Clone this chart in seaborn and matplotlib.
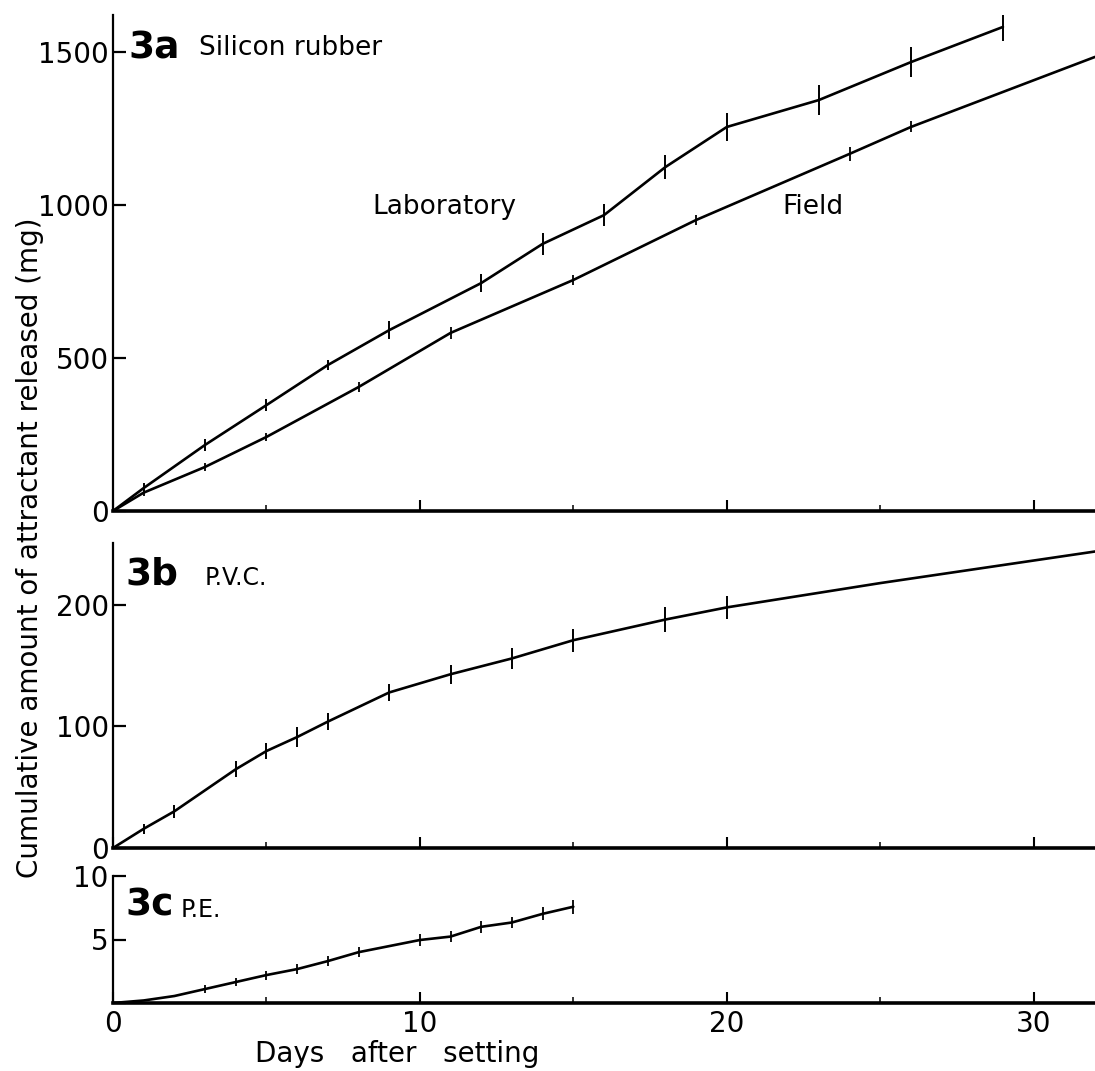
import numpy as np
import pandas as pd
import matplotlib
matplotlib.use("Agg")
import matplotlib.pyplot as plt
import seaborn as sns

# ---- data ----
# Panel 3a: silicon rubber
lab_days = [0, 1, 3, 5, 7, 9, 12, 14, 16, 18, 20, 23, 26, 29]
lab_vals = [0, 75, 216, 346, 477, 591, 745, 873, 967, 1124, 1255, 1343, 1467, 1582]
lab_err = [0, 16, 20, 20, 16, 29, 29, 36, 36, 39, 46, 49, 49, 46]

field_days = [0, 1, 3, 5, 8, 11, 15, 19, 24, 26, 32]
field_vals = [0, 60, 144, 242, 405, 582, 755, 951, 1167, 1255, 1484]
field_err = [0, 10, 14, 14, 17, 19, 15, 15, 23, 18, 0]

# Panel 3b: P.V.C.
pvc_days = [0, 1, 2, 4, 5, 6, 7, 9, 11, 13, 15, 18, 20, 25, 32]
pvc_vals = [0, 15.8, 30.2, 64.8, 79.8, 91.3, 104, 128, 143, 156, 171, 188, 198, 218, 244]
pvc_err = [0, 4.0, 5.5, 6.4, 6.9, 8.0, 6.9, 7.1, 7.8, 9.0, 9.6, 10.0, 9.6, 0, 0]

# Panel 3c: P.E.
pe_days = [0, 1, 2, 3, 4, 5, 6, 7, 8, 10, 11, 12, 13, 14, 15]
pe_vals = [0, 0.2, 0.55, 1.1, 1.65, 2.2, 2.67, 3.3, 4.0, 4.96, 5.23, 6.0, 6.34, 7.02, 7.58]
pe_err = [0, 0, 0, 0.3, 0.3, 0.35, 0.4, 0.4, 0.4, 0.45, 0.45, 0.45, 0.45, 0.5, 0.55]

x_ticks = [0, 10, 20, 30]
y_ticks_a = [0, 500, 1000, 1500]
y_ticks_b = [0, 100, 200]
y_ticks_c = [0, 5, 10]
y_labels_c = ["", "5", "10"]

sns.set_theme(style="white")
plt.rcParams['font.family'] = ['DejaVu Sans']
plt.rcParams['text.color'] = 'black'

W, H = 1095, 1071
fig = plt.figure(figsize=(W / 100, H / 100), dpi=100)

def axes_px(left, top, right, bottom):
    return fig.add_axes([left / W, 1 - bottom / H, (right - left) / W, (bottom - top) / H])

ax_a = axes_px(113, 15, 1095, 511)
ax_b = axes_px(113, 543, 1095, 848)
ax_c = axes_px(113, 876, 1095, 1003)

LW = 1.9

def draw(ax, days, vals, err, cap_lw=1.4):
    df = pd.DataFrame({"day": days, "val": vals})
    sns.lineplot(data=df, x="day", y="val", ax=ax, color="black", lw=LW,
                 estimator=None, sort=False)
    e = np.asarray(err, dtype=float)
    m = e > 0
    ax.errorbar(np.asarray(days)[m], np.asarray(vals)[m], yerr=e[m], fmt="none",
                ecolor="black", elinewidth=cap_lw, capsize=0)

draw(ax_a, lab_days, lab_vals, lab_err)
draw(ax_a, field_days, field_vals, field_err, cap_lw=1.3)
draw(ax_b, pvc_days, pvc_vals, pvc_err)
draw(ax_c, pe_days, pe_vals, pe_err, cap_lw=1.3)

ax_a.set_ylim(0, 1621)
ax_b.set_ylim(0, 251)
ax_c.set_ylim(0, 10)

for ax, yt in ((ax_a, y_ticks_a), (ax_b, y_ticks_b), (ax_c, y_ticks_c)):
    ax.set_xlim(0, 32)
    ax.set_xlabel("")
    ax.set_ylabel("")
    ax.set_facecolor("white")
    for s in ("top", "right"):
        ax.spines[s].set_visible(False)
    ax.spines["left"].set_linewidth(1.6)
    ax.spines["bottom"].set_linewidth(2.6)
    ax.spines["left"].set_color("black")
    ax.spines["bottom"].set_color("black")
    ax.set_yticks(yt)
    ax.set_xticks(x_ticks)
    ax.set_xticks([5, 15, 25], minor=True)
    ax.tick_params(axis="y", direction="in", length=9, width=1.6, pad=3,
                   labelsize=20, colors="black", left=True)
    ax.tick_params(axis="x", which="major", direction="in", length=8, width=1.5,
                   pad=5, labelsize=20, colors="black", bottom=True)
    ax.tick_params(axis="x", which="minor", direction="in", length=4, width=1.3,
                   bottom=True)

ax_a.set_yticklabels([str(v) for v in y_ticks_a])
ax_b.set_yticklabels([str(v) for v in y_ticks_b])
ax_c.set_yticklabels(y_labels_c)
ax_a.set_xticklabels([])
ax_b.set_xticklabels([])
ax_c.set_xticklabels([str(v) for v in x_ticks])

# panel annotations
ax_a.text(0.5, 1513, "3a", fontsize=27, fontweight="bold", va="center", ha="left", color="black")
ax_a.text(2.8, 1513, "Silicon rubber", fontsize=19, va="center", ha="left", color="black")
ax_a.text(10.8, 993, "Laboratory", fontsize=19, va="center", ha="center", color="black")
ax_a.text(22.8, 993, "Field", fontsize=19, va="center", ha="center", color="black")

ax_b.text(0.4, 225, "3b", fontsize=27, fontweight="bold", va="center", ha="left", color="black")
ax_b.text(3.0, 222, "P.V.C.", fontsize=17, va="center", ha="left", color="black")

ax_c.text(0.4, 7.7, "3c", fontsize=27, fontweight="bold", va="center", ha="left", color="black")
ax_c.text(2.2, 7.3, "P.E.", fontsize=17, va="center", ha="left", color="black")

fig.text(30 / W, 1 - 548 / H, "Cumulative amount of attractant released (mg)",
         rotation=90, fontsize=20, va="center", ha="center", color="black")
fig.text(397 / W, 1 - 1054 / H, "Days   after   setting", fontsize=20,
         va="center", ha="center", color="black")

fig.savefig("out.png", dpi=100, facecolor="white")
